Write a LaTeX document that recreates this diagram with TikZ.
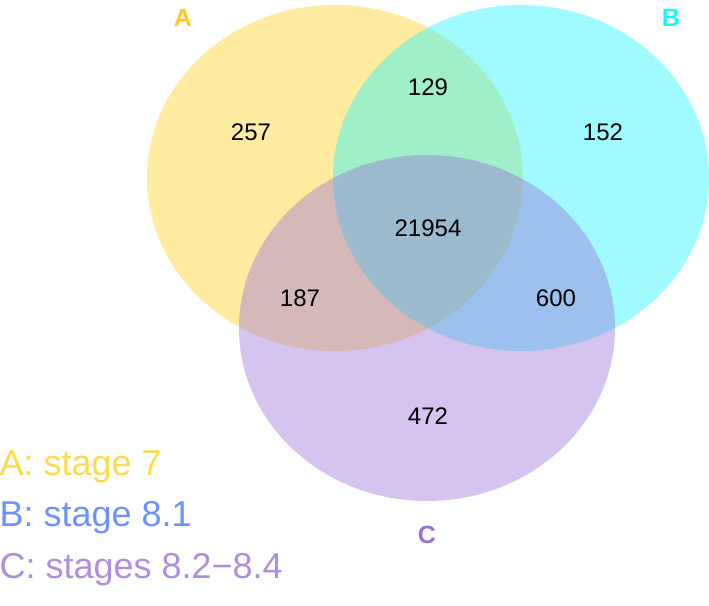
\documentclass[tikz,border=0pt]{standalone}
\usepackage{fontspec}
\setmainfont{Liberation Sans}
\begin{document}
\begin{tikzpicture}[x=1pt,y=-1pt,
  num/.style={font=\fontsize{24}{26}\selectfont},
  leg/.style={anchor=west,font=\fontsize{36}{40}\selectfont},
  set/.style={fill opacity=0.42},
  lab/.style={font=\bfseries\fontsize{25}{28}\selectfont}]
\useasboundingbox (0,0) rectangle (709,605);
\definecolor{ca}{HTML}{FFD21F}
\definecolor{cb}{HTML}{1AF5FF}
\definecolor{cc}{HTML}{9B72D9}
\fill[ca,set] (335,178) ellipse [x radius=188, y radius=173];
\fill[cb,set] (521,178) ellipse [x radius=188, y radius=173];
\fill[cc,set] (427,328) ellipse [x radius=188, y radius=173];
\node[num] (n257) at (251,132) {257};
\node[num] (n129) at (428,87) {129};
\node[num] (n152) at (603,132) {152};
\node[num] (n21954) at (428,228) {21954};
\node[num] (n187) at (300,298) {187};
\node[num] (n600) at (556,298) {600};
\node[num] (n472) at (428,416) {472};
\node[lab, text=ca!90!orange] (la) at (183,18) {A};
\node[lab, text=cb] (lb) at (671,18) {B};
\node[lab, text=cc] (lc) at (427,535) {C};
\node[leg,text=ca!80!white] (ga) at (-4,467) {A: stage 7};
\node[leg,text=cb!30!blue!60!white] (gb) at (-4,518) {B: stage 8.1};
\node[leg,text=cc!80!white] (gc) at (-4,570) {C: stages 8.2\textminus 8.4};
\end{tikzpicture}
\end{document}
